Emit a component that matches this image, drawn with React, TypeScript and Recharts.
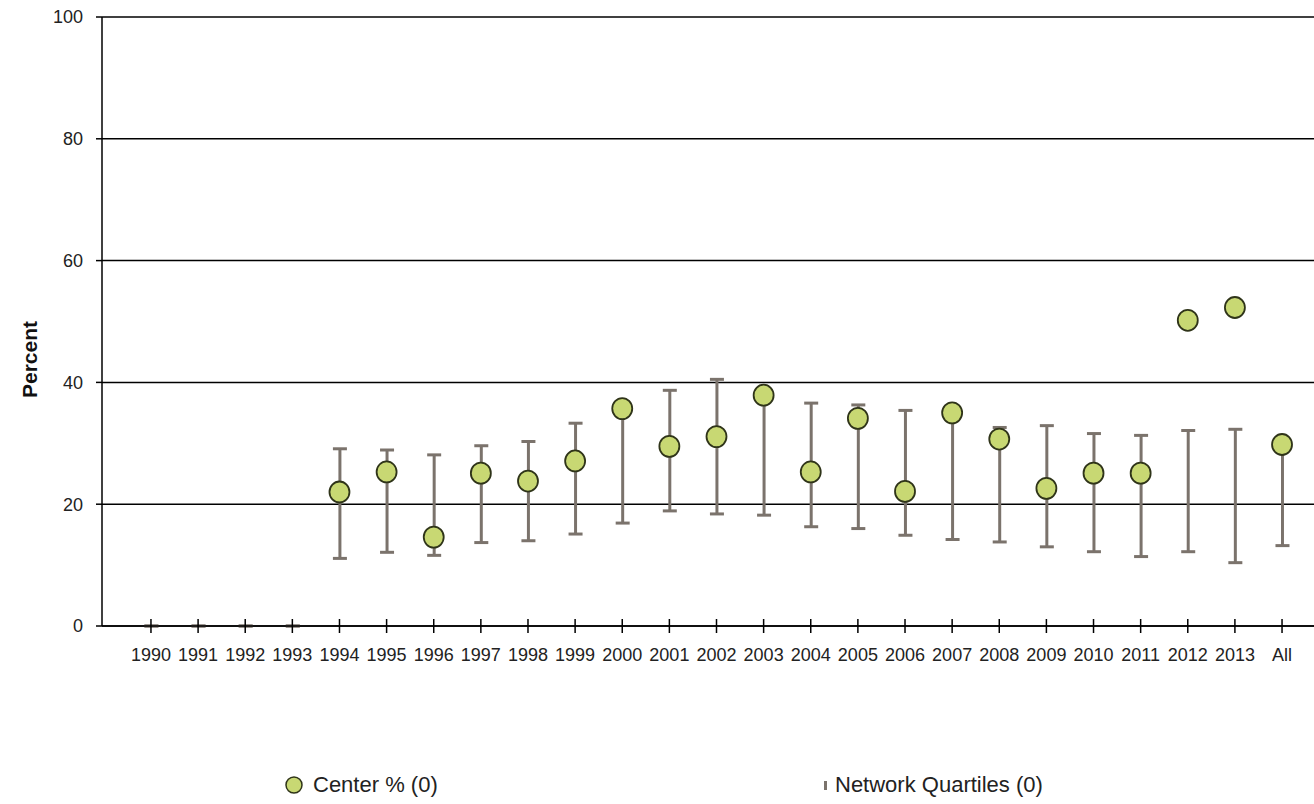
import React from 'react';
import {
  ComposedChart,
  Bar,
  Scatter,
  XAxis,
  YAxis,
  CartesianGrid,
  Legend,
} from 'recharts';

// Years plus the pooled "All" column
const categories = [
  '1990', '1991', '1992', '1993', '1994', '1995', '1996', '1997', '1998', '1999',
  '2000', '2001', '2002', '2003', '2004', '2005', '2006', '2007', '2008', '2009',
  '2010', '2011', '2012', '2013', 'All',
];

// Center % (null where the center reported nothing)
const centerPct: (number | null)[] = [
  null, null, null, null, 22.0, 25.3, 14.6, 25.1, 23.8, 27.1,
  35.7, 29.5, 31.1, 37.9, 25.3, 34.1, 22.1, 35.0, 30.7, 22.6,
  25.1, 25.1, 50.2, 52.3, 29.8,
];

// Network lower and upper quartiles
const quartileLow = [
  0, 0, 0, 0, 11.1, 12.1, 11.6, 13.7, 14.0, 15.1,
  16.9, 18.9, 18.4, 18.2, 16.3, 16.0, 14.9, 14.2, 13.8, 13.0,
  12.2, 11.4, 12.2, 10.4, 13.2,
];
const quartileHigh = [
  0, 0, 0, 0, 29.1, 28.9, 28.1, 29.6, 30.3, 33.3,
  36.8, 38.7, 40.5, 38.1, 36.6, 36.3, 35.4, 34.4, 32.6, 32.9,
  31.6, 31.3, 32.1, 32.3, 30.0,
];

const yTicks = [0, 20, 40, 60, 80, 100];

const rows = categories.map((year, i) => ({
  year,
  center: centerPct[i],
  quartiles: [quartileLow[i], quartileHigh[i]],
}));

const WHISKER = '#7b736c';
const DOT_FILL = '#c8d873';
const DOT_STROKE = '#2f3419';
const FONT = '"Liberation Sans", Arial, sans-serif';

// I-beam drawn across the quartile range
const Whisker = (props: any) => {
  const { x, y, width, height } = props;
  if (x == null || y == null) return null;
  const cx = x + width / 2;
  const half = 7;
  const top = y;
  const bottom = y + height;
  return (
    <g stroke={WHISKER} strokeWidth={3}>
      <line x1={cx} x2={cx} y1={top} y2={bottom} />
      <line x1={cx - half} x2={cx + half} y1={top} y2={top} />
      <line x1={cx - half} x2={cx + half} y1={bottom} y2={bottom} />
    </g>
  );
};

const CenterDot = (props: any) => {
  const { cx, cy } = props;
  if (cx == null || cy == null) return null;
  return <ellipse cx={cx} cy={cy} rx={10} ry={10.5} fill={DOT_FILL} stroke={DOT_STROKE} strokeWidth={1.8} />;
};

// Category tick: a short line crossing the axis plus the label beneath
const YearTick = (props: any) => {
  const { x, y, payload } = props;
  return (
    <g>
      <line x1={x} x2={x} y1={y - 7} y2={y + 7} stroke="#000" strokeWidth={1.5} />
      <text x={x} y={y + 35} textAnchor="middle" fontFamily={FONT} fontSize={18} fill="#222">
        {payload.value}
      </text>
    </g>
  );
};

// Rotated axis title, set a little below the plot's middle
const PercentLabel = (props: any) => {
  const { viewBox } = props;
  const cy = viewBox.y + viewBox.height / 2 + 38;
  const cx = 29;
  return (
    <text
      x={cx}
      y={cy}
      transform={`rotate(-90, ${cx}, ${cy})`}
      textAnchor="middle"
      dominantBaseline="central"
      fontFamily={FONT}
      fontSize={21}
      fontWeight="bold"
      fill="#111"
    >
      Percent
    </text>
  );
};

const LegendContent = () => (
  <div style={{ position: 'relative', height: 60, fontFamily: FONT, fontSize: 22, color: '#222' }}>
    <div style={{ position: 'absolute', left: 285, top: 28, display: 'flex', alignItems: 'center' }}>
      <svg width={18} height={18} style={{ marginRight: 10 }}>
        <circle cx={9} cy={9} r={8} fill={DOT_FILL} stroke={DOT_STROKE} strokeWidth={1.5} />
      </svg>
      <span>Center % (0)</span>
    </div>
    <div style={{ position: 'absolute', left: 823, top: 28, display: 'flex', alignItems: 'center' }}>
      <svg width={6} height={18} style={{ marginRight: 6 }}>
        <rect x={1} y={5} width={3} height={9} fill={WHISKER} />
      </svg>
      <span>Network Quartiles (0)</span>
    </div>
  </div>
);

export default function App() {
  return (
    <div style={{ position: 'absolute', left: 0, top: 0, width: 1314, height: 804, background: '#fff' }}>
      <ComposedChart
        width={1314}
        height={804}
        data={rows}
        margin={{ top: 17, right: 0, bottom: 0, left: 0 }}
      >
        <CartesianGrid horizontal vertical={false} stroke="#000" strokeWidth={1.5} />
        <XAxis
          dataKey="year"
          height={118}
          padding={{ left: 25.4, right: 8.4 }}
          axisLine={{ stroke: '#000', strokeWidth: 1.5 }}
          tickLine={false}
          tickSize={0}
          tickMargin={0}
          interval={0}
          tick={<YearTick />}
        />
        <YAxis
          width={102}
          domain={[0, 100]}
          ticks={yTicks}
          tickSize={6}
          tickMargin={13}
          axisLine={{ stroke: '#000', strokeWidth: 1.5 }}
          tickLine={{ stroke: '#000', strokeWidth: 1.5 }}
          tick={{ fontFamily: FONT, fontSize: 18, fill: '#222' }}
          label={<PercentLabel />}
        />
        <Legend verticalAlign="bottom" height={60} content={<LegendContent />} />
        <Scatter dataKey="center" shape={<CenterDot />} isAnimationActive={false} />
        <Bar dataKey="quartiles" barSize={14} shape={<Whisker />} isAnimationActive={false} />
      </ComposedChart>
    </div>
  );
}
